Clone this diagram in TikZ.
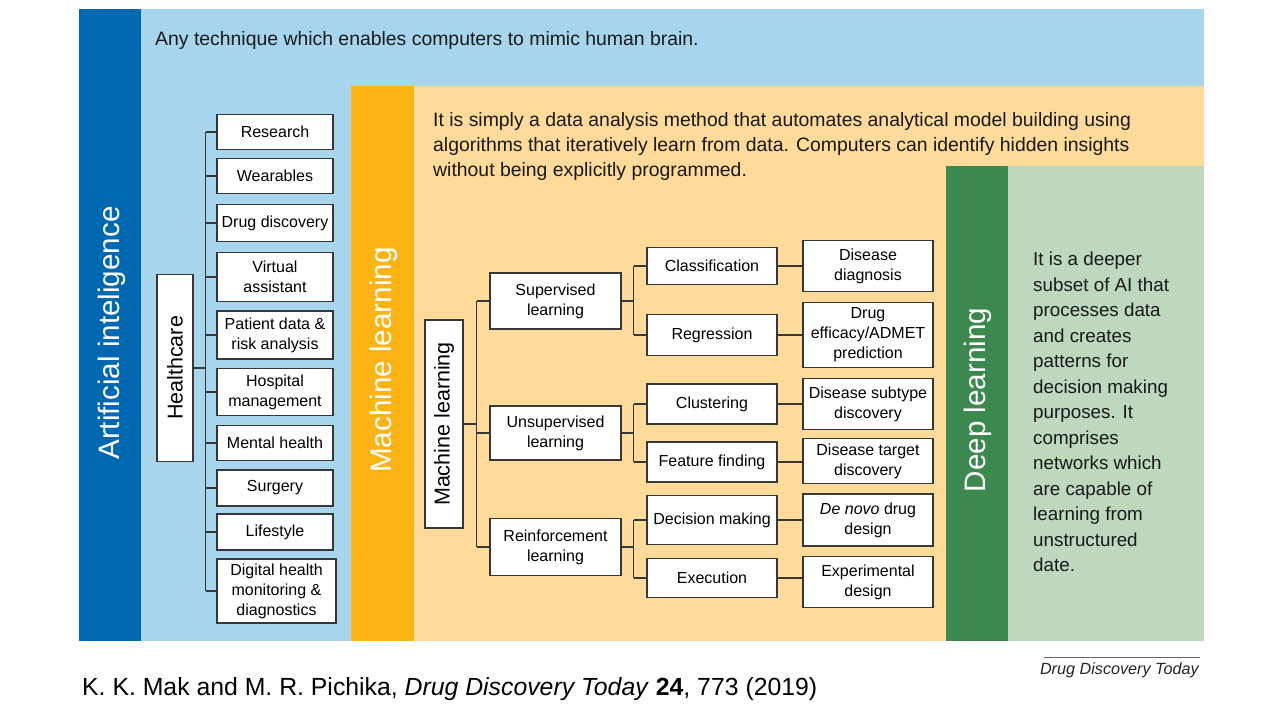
\documentclass[tikz,border=0pt]{standalone}
\usepackage{fontspec}
\setmainfont{Liberation Sans}
\usepackage{tikz}
\usetikzlibrary{positioning}
\definecolor{aidark}{RGB}{0,103,177}
\definecolor{ailight}{RGB}{168,213,238}
\definecolor{mldark}{RGB}{252,180,20}
\definecolor{mllight}{RGB}{254,218,155}
\definecolor{dldark}{RGB}{60,137,80}
\definecolor{dllight}{RGB}{189,216,190}
\definecolor{boxline}{RGB}{55,55,55}

\tikzset{
  box/.style={draw=boxline, fill=white, line width=1.3pt, inner sep=1pt, align=center,
    font=\fontsize{16}{20}\selectfont},
  link/.style={draw=boxline, line width=1.3pt},
  strip/.style={text=white, rotate=90, font=\fontsize{29.6}{33}\selectfont},
  desc/.style={anchor=north west, align=left, inner sep=0pt, text=black!90,
    font=\fontsize{19.4}{25}\selectfont},
}

\begin{document}
\begin{tikzpicture}[x=1pt,y=-1pt]
    \useasboundingbox (0,0) rectangle (1280,708);
    \fill[white] (0,0) rectangle (1280,708);
    % nested panels
    \fill[ailight] (79,9) rectangle (1204,641);
    \fill[aidark] (79,9) rectangle (141,641);
    \fill[mllight] (351,86) rectangle (1204,641);
    \fill[mldark] (351,86) rectangle (414,641);
    \fill[dllight] (946,166) rectangle (1204,641);
    \fill[dldark] (946,166) rectangle (1008,641);
    \node[strip] (ailab) at (112,333) {Artificial inteligence};
    \node[strip] (mllab) at (384,360) {Machine learning};
    \node[strip] (dllab) at (978,400) {Deep learning};
    \node[desc] (aitext) at (155,31) {Any technique which enables computers to mimic human brain.};
    \node[desc] (mltext) at (433,112) {It is simply a data analysis method that automates analytical model building using\\
        algorithms that iteratively learn from data. Computers can identify hidden insights\\
        without being explicitly programmed.};
    \node[desc, font=\fontsize{18.8}{25.5}\selectfont] (dltext) at (1033,252) {It is a deeper\\subset of AI that\\processes data\\and creates\\patterns for\\
        decision making\\purposes. It\\comprises\\networks which\\are capable of\\learning from\\unstructured\\date.};
    % healthcare tree
    \node[box, rotate=90, minimum width=187pt, minimum height=36pt, font=\fontsize{21.5}{24}\selectfont] (health) at (175,368) {Healthcare};
    \foreach \nm/\yc/\hh/\txt in {res/132/35/Research, wear/176/35/Wearables, drug/223/37/Drug discovery,
        virt/277/49/{Virtual\\assistant}, pat/335/48/{Patient data \&\\risk analysis}, hosp/392/47/{Hospital\\management},
        ment/443/35/Mental health, surg/488/36/Surgery, life/532/36/Lifestyle}
      \node[box, minimum width=116pt, minimum height=\hh pt] (\nm) at (275,\yc) {\txt};
    \node[box, minimum width=119pt, minimum height=64pt] (dig) at (276.5,591) {Digital health\\monitoring \&\\diagnostics};
    \path (health.south) ++(12,0) coordinate (hj);
    \draw[link] (health.south) -- (hj);
    \draw[link] (res.west -| hj) -- (dig.west -| hj);
    \foreach \nm in {res,wear,drug,virt,pat,hosp,ment,surg,life,dig}
      \draw[link] (\nm.west -| hj) -- (\nm.west);
    % machine learning tree
    \node[box, rotate=90, minimum width=208pt, minimum height=38pt, font=\fontsize{21.5}{24}\selectfont] (mlroot) at (444,424) {Machine learning};
    \foreach \nm/\yc/\hh/\txt in {sup/301/56/{Supervised\\learning}, uns/433/54/{Unsupervised\\learning},
        rein/547/57/{Reinforcement\\learning}}
      \node[box, minimum width=131pt, minimum height=\hh pt] (\nm) at (555.5,\yc) {\txt};
    \foreach \nm/\yc/\hh/\txt in {cls/266/37/Classification, reg/335/41/Regression, clu/404/40/Clustering,
        feat/462/40/Feature finding, dec/520/49/Decision making, exe/578/39/Execution}
      \node[box, minimum width=130pt, minimum height=\hh pt] (\nm) at (712,\yc) {\txt};
    \foreach \nm/\yc/\hh/\txt in {dd/266/51/{Disease\\diagnosis}, de/335/65/{Drug\\efficacy/ADMET\\prediction},
        ds/404/51/{Disease subtype\\discovery}, dt/461/45/{Disease target\\discovery},
        dn/520/52/{\textit{De novo} drug\\design}, ed/582/51/{Experimental\\design}}
      \node[box, minimum width=130pt, minimum height=\hh pt] (\nm) at (868,\yc) {\txt};
    \path (mlroot.south) ++(13,0) coordinate (mj);
    \draw[link] (mlroot.south) -- (mj);
    \draw[link] (sup.west -| mj) -- (rein.west -| mj);
    \foreach \nm in {sup,uns,rein}
      \draw[link] (\nm.west -| mj) -- (\nm.west);
    \foreach \p/\a/\b in {sup/cls/reg, uns/clu/feat, rein/dec/exe} {
      \path (\p.east) ++(12,0) coordinate (j\p);
      \draw[link] (\p.east) -- (j\p);
      \draw[link] (\a.west -| j\p) -- (\b.west -| j\p);
      \draw[link] (\a.west -| j\p) -- (\a.west);
      \draw[link] (\b.west -| j\p) -- (\b.west);
    }
    \foreach \a/\b in {cls/dd, reg/de, clu/ds, feat/dt, dec/dn, exe/ed}
      \draw[link] (\a.east) -- (\a.east -| \b.west);
    % footer
    \node[anchor=base east, inner sep=0pt, text=black!85, font=\itshape\fontsize{16.2}{18}\selectfont] (journal) at (1199,674) {Drug Discovery Today};
    \draw[black!60, line width=0.8pt] ([xshift=4pt,yshift=5pt]journal.north west) -- ([xshift=1pt,yshift=5pt]journal.north east);
    \node[anchor=base west, inner sep=0pt, font=\fontsize{24.8}{28}\selectfont] (cite) at (82,695)
      {K. K. Mak and M. R. Pichika, \textit{Drug Discovery Today} \textbf{24}, 773 (2019)};
\end{tikzpicture}
\end{document}
